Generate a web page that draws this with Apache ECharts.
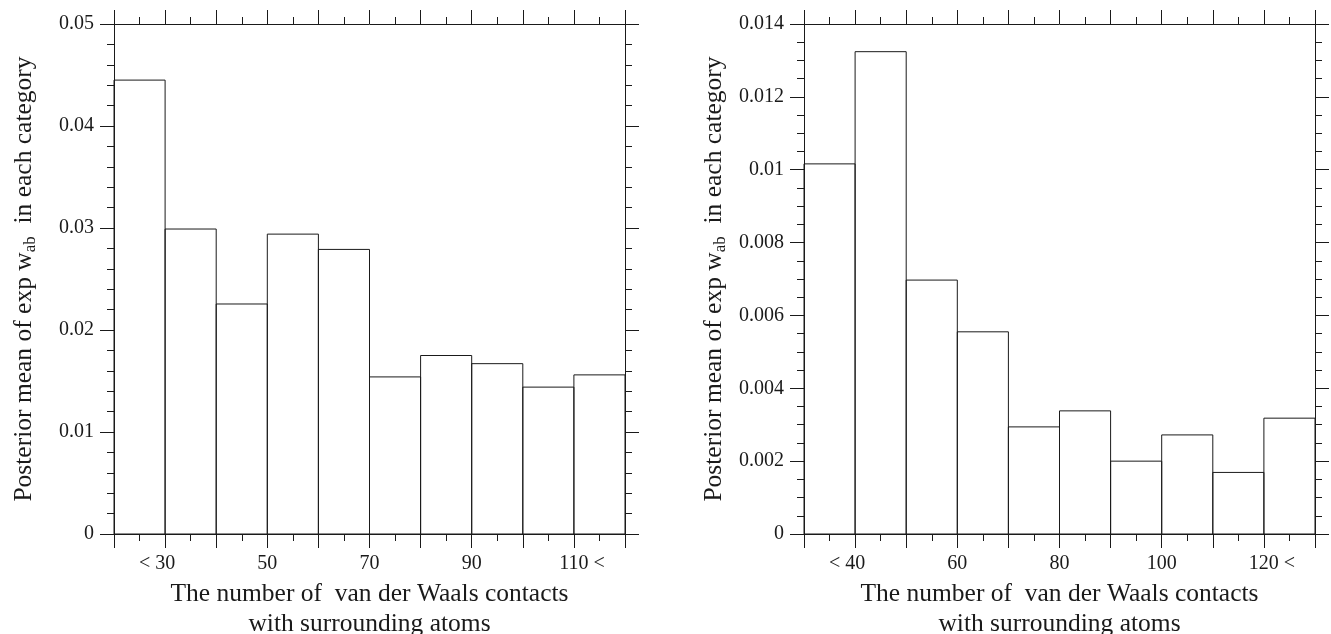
<!DOCTYPE html>
<html>
<head>
<meta charset="utf-8">
<script src="https://cdn.jsdelivr.net/npm/echarts@6/dist/echarts.min.js"></script>
<style>
html,body{margin:0;padding:0;background:#fff;}
#chart{width:1331px;height:634px;}
</style>
</head>
<body>
<div id="chart"></div>
<script>
// ---- data ----
const binWidth = 10;
const leftBinStart = [20, 30, 40, 50, 60, 70, 80, 90, 100, 110];
const leftValues = [0.0445, 0.0299, 0.02255, 0.0294, 0.0279, 0.0154, 0.0175, 0.0167, 0.0144, 0.0156];
const rightBinStart = [30, 40, 50, 60, 70, 80, 90, 100, 110, 120];
const rightValues = [0.01016, 0.01324, 0.00697, 0.00555, 0.00294, 0.00338, 0.0020, 0.00272, 0.00169, 0.00318];
const leftTickLabels = {30: '< 30', 50: '50', 70: '70', 90: '90', 110: '110 <'};
const rightTickLabels = {40: '< 40', 60: '60', 80: '80', 100: '100', 120: '120 <'};
const yTitleMain = 'Posterior mean of exp w';
const yTitleSub = 'ab';
const yTitleEnd = '  in each category';
const xTitle = 'The number of  van der Waals contacts\nwith surrounding atoms';

// ---- styles ----
const FONT = 'Liberation Serif';
const INK = '#1a1a1a';
const TICK_FS = 20;
const TITLE_FS = 25.5;

function xLabelFormatter(map) {
  return function (v) {
    const s = map[v];
    if (!s) return '';
    if (s.startsWith('< ')) return s + '{g| }';
    if (s.endsWith(' <')) return '{g| }' + s;
    return s;
  };
}

function axisCommon() {
  return {
    axisLine: {show: true, onZero: false, lineStyle: {color: INK, width: 1}},
    axisTick: {show: true, inside: false, length: 14, lineStyle: {color: INK, width: 1}},
    minorTick: {show: true, length: 7, lineStyle: {color: INK, width: 1}},
    splitLine: {show: false},
    minorSplitLine: {show: false}
  };
}

function makeX(gridIndex, min, max, position, labels) {
  const a = Object.assign(axisCommon(), {
    type: 'value', gridIndex: gridIndex, position: position,
    min: min, max: max, interval: 10
  });
  a.minorTick.splitNumber = 2;
  if (labels) {
    a.axisLabel = {
      show: true, margin: 20, fontFamily: FONT, fontSize: TICK_FS, color: INK,
      formatter: xLabelFormatter(labels),
      rich: {g: {width: 16, fontFamily: FONT, fontSize: TICK_FS}},
      showMinLabel: true, showMaxLabel: true
    };
    a.name = xTitle;
    a.nameLocation = 'middle';
    a.nameGap = 42;
    a.nameTextStyle = {fontFamily: FONT, fontSize: TITLE_FS, color: INK, lineHeight: 30, verticalAlign: 'top'};
  } else {
    a.axisLabel = {show: false};
  }
  return a;
}

function yFmt(v) {
  if (v === 0) return '0';
  return String(+v.toFixed(4));
}

function makeY(gridIndex, max, interval, split, position, withLabels) {
  const a = Object.assign(axisCommon(), {
    type: 'value', gridIndex: gridIndex, position: position,
    min: 0, max: max, interval: interval
  });
  a.minorTick.splitNumber = split;
  if (withLabels) {
    a.axisLabel = {show: true, margin: 20, fontFamily: FONT, fontSize: TICK_FS, color: INK, formatter: yFmt};
    a.name = yTitleMain + '{sub|' + yTitleSub + '}' + yTitleEnd;
    a.nameLocation = 'middle';
    a.nameGap = 75;
    a.nameRotate = 90;
    a.nameTextStyle = {
      fontFamily: FONT, fontSize: TITLE_FS, color: INK,
      rich: {sub: {fontFamily: FONT, fontSize: 17, color: INK, padding: [13, 0, 0, 0]}}
    };
  } else {
    a.axisLabel = {show: false};
  }
  return a;
}

function histData(starts, values) {
  return starts.map((s, i) => [s, s + binWidth, values[i]]);
}

function renderBar(params, api) {
  const x0 = api.value(0), x1 = api.value(1), v = api.value(2);
  const p0 = api.coord([x0, 0]);
  const p1 = api.coord([x1, v]);
  return {
    type: 'rect',
    shape: {x: p0[0], y: p1[1], width: p1[0] - p0[0], height: p0[1] - p1[1]},
    style: {fill: 'transparent', stroke: INK, lineWidth: 1}
  };
}

const chart = echarts.init(document.getElementById('chart'), null, {renderer: 'canvas'});
chart.setOption({
  backgroundColor: '#fff',
  animation: false,
  grid: [
    {left: 114, right: 706, top: 24, bottom: 100, outerBoundsMode: 'none', containLabel: false},
    {left: 804, right: 16, top: 24, bottom: 100, outerBoundsMode: 'none', containLabel: false}
  ],
  xAxis: [
    makeX(0, 20, 120, 'bottom', leftTickLabels),
    makeX(0, 20, 120, 'top', null),
    makeX(1, 30, 130, 'bottom', rightTickLabels),
    makeX(1, 30, 130, 'top', null)
  ],
  yAxis: [
    makeY(0, 0.05, 0.01, 5, 'left', true),
    makeY(0, 0.05, 0.01, 5, 'right', false),
    makeY(1, 0.014, 0.002, 4, 'left', true),
    makeY(1, 0.014, 0.002, 4, 'right', false)
  ],
  series: [
    {type: 'custom', xAxisIndex: 0, yAxisIndex: 0, renderItem: renderBar,
     encode: {x: [0, 1], y: 2}, data: histData(leftBinStart, leftValues), z: 3},
    {type: 'custom', xAxisIndex: 2, yAxisIndex: 2, renderItem: renderBar,
     encode: {x: [0, 1], y: 2}, data: histData(rightBinStart, rightValues), z: 3}
  ]
});
</script>
</body>
</html>
